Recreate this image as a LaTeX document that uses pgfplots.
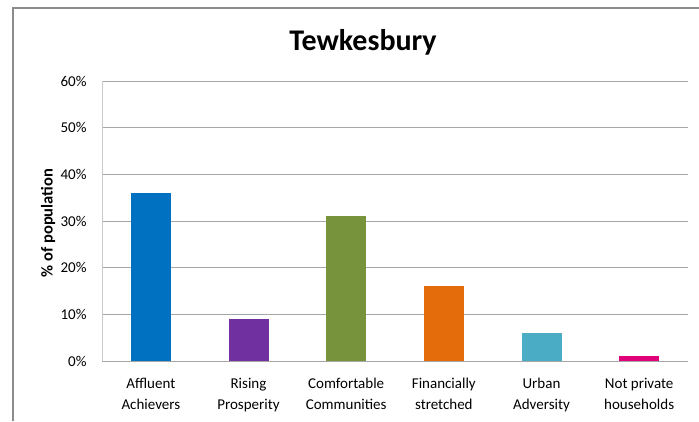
\documentclass[border=0pt]{standalone}
\usepackage{fontspec}
\setmainfont{Carlito}
\usepackage{pgfplots}
\pgfplotsset{compat=1.18}
\definecolor{cBlue}{HTML}{0070C0}
\definecolor{cPurple}{HTML}{7030A0}
\definecolor{cGreen}{HTML}{77933C}
\definecolor{cOrange}{HTML}{E46C0A}
\definecolor{cTeal}{HTML}{4BACC6}
\definecolor{cMagenta}{HTML}{E0007A}
\definecolor{gridgray}{HTML}{A6A6A6}
\definecolor{framegray}{HTML}{8C8C8C}
\begin{document}
\begin{tikzpicture}[x=1bp,y=1bp]
\useasboundingbox (0,0) rectangle (699,421);
\draw[framegray, line width=1.2bp] (13,0) -- (13,413) -- (699,413);
\begin{axis}[
  at={(102bp,60bp)}, anchor=south west,
  scale only axis, width=586bp, height=280bp,
  xmin=-0.5, xmax=5.5, ymin=0, ymax=60,
  axis x line*=bottom, axis y line*=left,
  x axis line style={draw=gridgray, line width=0.8bp},
  y axis line style={draw=gridgray!60, line width=0.8bp},
  ytick={0,10,...,60},
  yticklabel={\pgfmathprintnumber{\tick}\%},
  /pgf/number format/assume math mode=true,
  major tick length=0pt,
  ymajorgrids, grid style={draw=gridgray, line width=0.8bp},
  xtick={0,...,5},
  xticklabels={{Affluent\\Achievers},{Rising\\Prosperity},{Comfortable\\Communities},{Financially\\stretched},{Urban\\Adversity},{Not private\\households}},
  xticklabel style={align=center, font=\fontsize{15bp}{21bp}\selectfont, yshift=-14bp},
  yticklabel style={font=\fontsize{15bp}{17bp}\selectfont, xshift=-12bp},
  ybar, bar width=40bp, bar shift=0pt,
  every axis plot/.append style={draw=none},
]
\addplot[fill=cBlue] coordinates {(0,36)};
\addplot[fill=cPurple] coordinates {(1,9)};
\addplot[fill=cGreen] coordinates {(2,31)};
\addplot[fill=cOrange] coordinates {(3,16)};
\addplot[fill=cTeal] coordinates {(4,6)};
\addplot[fill=cMagenta] coordinates {(5,1)};
\end{axis}
\node[font=\fontsize{30bp}{34bp}\selectfont\bfseries] at (363,379) {Tewkesbury};
\node[rotate=90, font=\fontsize{16.5bp}{19bp}\selectfont\bfseries] at (48,198) {\% of population};
\end{tikzpicture}
\end{document}
